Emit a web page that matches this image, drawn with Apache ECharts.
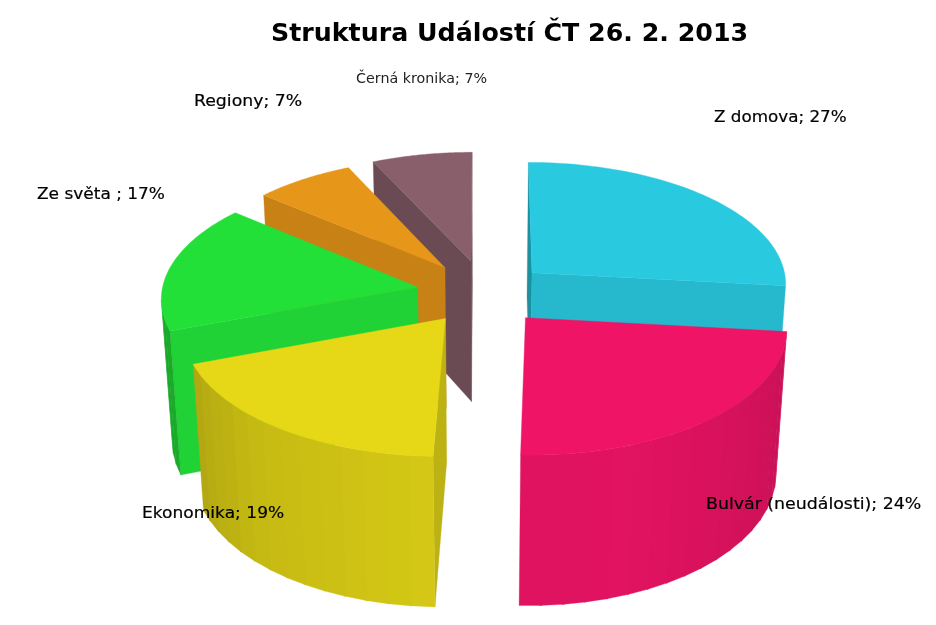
<!DOCTYPE html>
<html><head><meta charset="utf-8">
<style>html,body{margin:0;padding:0;background:#fff}#c{width:936px;height:625px}</style>
<script src="https://cdn.jsdelivr.net/npm/echarts@6/dist/echarts.min.js"></script>
</head><body><div id="c"></div>
<script>
const titleText = 'Struktura Událostí ČT 26. 2. 2013';
const categories = ['Z domova', 'Bulvár (neudálosti)', 'Ekonomika', 'Ze světa ', 'Regiony', 'Černá kronika'];
const values = [27, 24, 19, 17, 7, 7];
const colors = ['#29C9DF', '#F01467', '#E6D817', '#22E038', '#E69618', '#885F6A'];
const labelAnchors = [[714,118],[706,505],[142,514],[37,195],[194,102],[356,79]];
const labelStretch = [1.047,1.085,1.066,1.06,1.08,1.02];
const sliceNudge = [[1,1],[-1,1],[2,0],[0,0],[2,0],[2.5,-1]];

// projection constants
const CX = 482.5, CY = 292.5, R = 256, EXPL = 66, K = 0.478, P = 3.136e-4, M = 147, Q = 0.035;
const total = values.reduce((a, b) => a + b, 0);
const shadeTable = [[90,.82],[120,.87],[160,.94],[180,.93],[222,.86],[250,.77],[285,.68]];
function shade(phi){
  phi = ((phi % 360) + 360) % 360;
  if (phi < 90 || phi > 285) return phi < 90 ? .8 : .68;
  for (let i = 1; i < shadeTable.length; i++) {
    const a = shadeTable[i-1], b = shadeTable[i];
    if (phi <= b[0]) return a[1] + (b[1]-a[1]) * (phi-a[0]) / (b[0]-a[0]);
  }
  return .68;
}
function mul(hex, f){
  const n = parseInt(hex.slice(1), 16);
  const c = [n>>16 & 255, n>>8 & 255, n & 255].map(v => Math.round(v*f));
  return `rgb(${c[0]},${c[1]},${c[2]})`;
}
function proj(X, Y, d){           // d = 0 top, 1 bottom
  const s = 1 / (1 - P*Y + Q*d);
  return [CX + X*s, CY + (K*Y + M*d)*s];
}
function area(p){ let a = 0; for (let i = 0; i < p.length; i++){ const q = p[(i+1)%p.length]; a += p[i][0]*q[1]-q[0]*p[i][1]; } return a; }
const rad = d => d*Math.PI/180;

const spans = []; { let acc = 0; values.forEach(v => { spans.push([acc/total*360, (acc+v)/total*360]); acc += v; }); }
const depthOrder = spans.map((s,i)=>[i, -Math.cos(rad((s[0]+s[1])/2))]).sort((a,b)=>a[1]-b[1]).map(a=>a[0]);

function renderItem(params, api){
  const i = params.dataIndex, base = colors[i];
  const [a0, a1] = spans[i];
  const mid = (a0+a1)/2;
  const ox = EXPL*Math.sin(rad(mid)), oy = -EXPL*Math.cos(rad(mid));
  const rim = a => [ox + R*Math.sin(rad(a)), oy - R*Math.cos(rad(a))];
  const rank = depthOrder.indexOf(i);
  const children = [];
  let z = rank*1000;
  const nudge = pts => pts.map(p => [p[0]+sliceNudge[i][0], p[1]+sliceNudge[i][1]]);
  const poly = (pts, fill, z2, lw) => children.push({type:'polygon', shape:{points:nudge(pts)}, z2,
      style:{fill, stroke:lw?fill:null, lineWidth:lw||0}, silent:true});
  const wall = (A, B, phi) => ({pts:[proj(A[0],A[1],0), proj(B[0],B[1],0), proj(B[0],B[1],1), proj(A[0],A[1],1)], phi});
  const walls = [];
  const O = [ox, oy];
  walls.push(wall(O, rim(a0), a0-90));
  walls.push(wall(rim(a1), O, a1+90));
  const STEP = 5, n = Math.max(1, Math.ceil((a1-a0)/STEP));
  for (let j = 0; j < n; j++){
    const s = a0+(a1-a0)*j/n, e = a0+(a1-a0)*(j+1)/n;
    walls.push(wall(rim(s), rim(Math.min(e+0.4, a1)), (s+e)/2));
  }
  walls.forEach(w => {
    if (area(w.pts) >= 0) return;      // faces away from the viewer
    poly(w.pts, mul(base, shade(w.phi)), ++z, 0.3);
  });
  const top = [proj(ox,oy,0)];
  for (let k = 0; k <= 60; k++){ const r = rim(a0+(a1-a0)*k/60); top.push(proj(r[0],r[1],0)); }
  poly(top, base, ++z, 0.4);
  const label = categories[i] + '; ' + api.value(0) + '%';
  const thin = i === 5;
  children.push({type:'text', z2:100000, silent:true, x:labelAnchors[i][0], y:labelAnchors[i][1],
    scaleX:labelStretch[i],
    style:{text:label, fill:thin?'#222':'#000', fontFamily:'DejaVu Sans', fontSize:thin?14:16, fontWeight:'normal',
      stroke:thin?null:'#000', lineWidth:thin?0:0.2,
      align:'left', verticalAlign:'middle'}});
  return {type:'group', children};
}

const chart = echarts.init(document.getElementById('c'), null, {renderer:'canvas'});
chart.setOption({
  animation:false,
  backgroundColor:'#fff',
  title:{text:titleText, left:266, top:17, textStyle:{fontFamily:'DejaVu Sans', fontSize:25.3, fontWeight:'bold', color:'#000'}},
  series:[{type:'custom', coordinateSystem:'none', renderItem, silent:true,
    data:values.map((v,i)=>({name:categories[i], value:[v]}))}]
});
</script></body></html>
